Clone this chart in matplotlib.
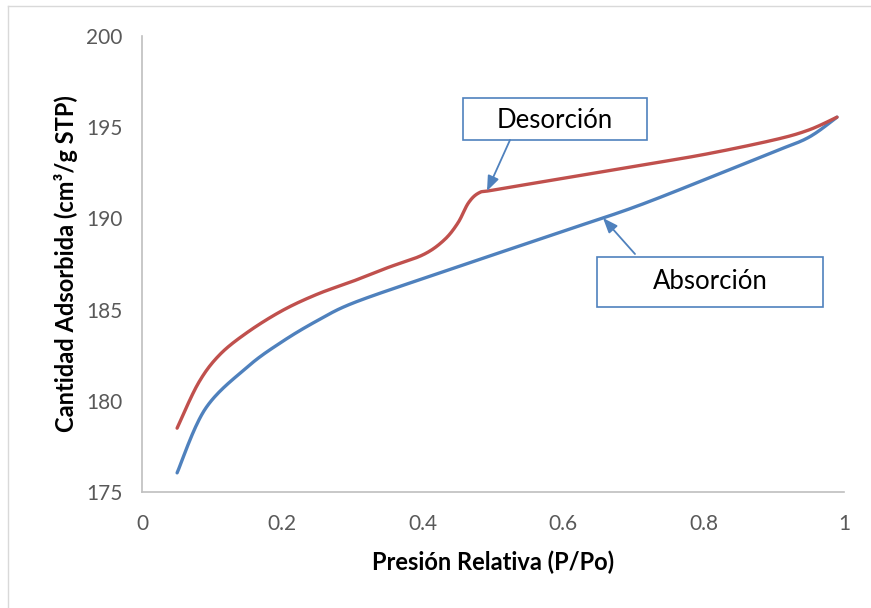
import numpy as np
import matplotlib
matplotlib.use("Agg")
import matplotlib.pyplot as plt
from matplotlib.lines import Line2D
from matplotlib.patches import Rectangle

# Isotherm data: relative pressure (P/Po) vs adsorbed quantity (cm3/g STP)
p_abs = [0.05, 0.09, 0.15, 0.20, 0.25, 0.30, 0.40, 0.50, 0.60, 0.70, 0.80, 0.90, 0.95, 0.99]
q_abs = [176.05, 179.55, 181.85, 183.25, 184.4, 185.35, 186.7, 188.0, 189.3, 190.6, 192.1, 193.65, 194.45, 195.55]

p_des = [0.05, 0.08, 0.11, 0.15, 0.20, 0.25, 0.30, 0.35, 0.40, 0.43, 0.45, 0.465, 0.48, 0.50,
         0.60, 0.70, 0.80, 0.90, 0.95, 0.99]
q_des = [178.5, 180.95, 182.5, 183.75, 184.95, 185.85, 186.55, 187.3, 188.0, 188.8, 189.75, 190.85, 191.4, 191.55,
         192.2, 192.85, 193.5, 194.3, 194.85, 195.55]

x_ticks = [0, 0.2, 0.4, 0.6, 0.8, 1.0]
x_tick_labels = ["0", "0.2", "0.4", "0.6", "0.8", "1"]
y_ticks = [175, 180, 185, 190, 195, 200]

BLUE = "#4F81BD"
RED = "#C0504D"
FONT = "Lato"

W, H = 871, 608
AX_L, AX_R, AX_T, AX_B = 142, 844, 36, 492


def smooth(xs, ys, n=30):
    """Bezier smoothing through every point (spreadsheet-style smoothed line)."""
    xs = np.asarray(xs, float)
    ys = np.asarray(ys, float)
    px = np.concatenate([[xs[0]], xs, [xs[-1]]])
    py = np.concatenate([[ys[0]], ys, [ys[-1]]])
    sx, sy = 1.0, 1.0 / 25.0
    out_x, out_y = [], []
    t = np.linspace(0, 1, n)
    for i in range(1, len(px) - 2):
        p0 = np.array([px[i - 1] * sx, py[i - 1] * sy])
        p1 = np.array([px[i] * sx, py[i] * sy])
        p2 = np.array([px[i + 1] * sx, py[i + 1] * sy])
        p3 = np.array([px[i + 2] * sx, py[i + 2] * sy])
        c1 = p1 + (p2 - p0) / 6.0
        c2 = p2 - (p3 - p1) / 6.0
        b = ((1 - t) ** 3)[:, None] * p1 + (3 * (1 - t) ** 2 * t)[:, None] * c1 \
            + (3 * (1 - t) * t ** 2)[:, None] * c2 + (t ** 3)[:, None] * p2
        out_x.extend(b[:, 0] / sx)
        out_y.extend(b[:, 1] / sy)
    return np.array(out_x), np.array(out_y)


def to_data(x, y):
    """Figure pixel position -> data coordinates of the plot area."""
    return ((x - AX_L) / (AX_R - AX_L),
            175 + (AX_B - y) * 25.0 / (AX_B - AX_T))


fig = plt.figure(figsize=(W / 100, H / 100), dpi=100)
fig.patch.set_facecolor("white")

# chart area outline
fig.add_artist(Line2D([8 / W, 1.0], [1 - 6 / H, 1 - 6 / H], color="#D9D9D9", lw=1.0))
fig.add_artist(Line2D([8 / W, 8 / W], [0.0, 1 - 6 / H], color="#D9D9D9", lw=1.0))

ax = fig.add_axes([AX_L / W, (H - AX_B) / H, (AX_R - AX_L) / W, (AX_B - AX_T) / H])
ax.set_xlim(0, 1)
ax.set_ylim(175, 200)

xa, ya = smooth(p_abs, q_abs)
xd, yd = smooth(p_des, q_des)
ax.plot(xa, ya, color=BLUE, lw=2.4, solid_capstyle="round", zorder=3)
ax.plot(xd, yd, color=RED, lw=2.4, solid_capstyle="round", zorder=3)

for s in ["top", "right"]:
    ax.spines[s].set_visible(False)
for s in ["left", "bottom"]:
    ax.spines[s].set_color("#BFBFBF")
    ax.spines[s].set_linewidth(1.2)

ax.set_xticks(x_ticks)
ax.set_xticklabels(x_tick_labels)
ax.set_yticks(y_ticks)
ax.tick_params(length=0, labelsize=15, labelcolor="#595959")
ax.tick_params(axis="y", pad=14)
ax.tick_params(axis="x", pad=16)
for lab in ax.get_xticklabels() + ax.get_yticklabels():
    lab.set_fontfamily(FONT)

ax.set_xlabel("Presión Relativa (P/Po)", fontsize=17, fontweight="bold",
              family=FONT, labelpad=12)
ax.set_ylabel("Cantidad Adsorbida (cm³/g STP)", fontsize=17, fontweight="bold",
              family=FONT, labelpad=6)

arrow = dict(arrowstyle="-|>,head_length=0.9,head_width=0.35", color=BLUE, lw=1.3,
             shrinkA=0, shrinkB=0)

# callouts: box (left, top, right, bottom), text centre, arrow start, arrow tip
callouts = [
    ("Desorción", (463, 98, 647, 140), (555, 121), (510, 140), (487, 191)),
    ("Absorción", (597, 257, 823, 307), (710, 282), (635, 254), (603, 218)),
]
for label, (l, t, r, b), ctr, start, tip in callouts:
    x0, y1 = to_data(l, t)
    x1, y0 = to_data(r, b)
    ax.add_patch(Rectangle((x0, y0), x1 - x0, y1 - y0, fc="white", ec=BLUE, lw=1.2,
                           clip_on=False, zorder=4))
    ax.text(*to_data(*ctr), label, fontsize=18.5, family=FONT, ha="center", va="center",
            zorder=5)
    ax.annotate("", xy=to_data(*tip), xytext=to_data(*start), arrowprops=arrow, zorder=4)

fig.savefig("out.png", dpi=100)
